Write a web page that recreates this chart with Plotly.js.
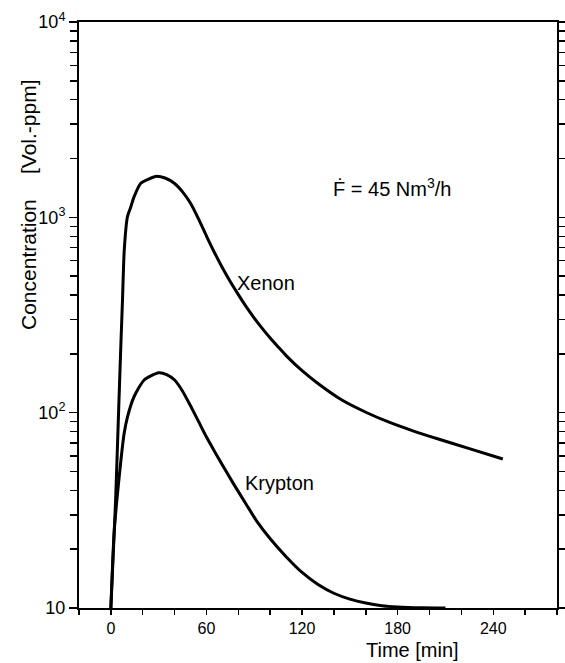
<!DOCTYPE html>
<html>
<head>
<meta charset="utf-8">
<script src="https://cdn.plot.ly/plotly-3.0.1.min.js"></script>
<style>html,body{margin:0;padding:0;background:#fff;}#chart{width:565px;height:663px;}</style>
</head>
<body>
<div id="chart"></div>
<script>
// Time [min] and concentration [Vol.-ppm]
const xenonTime = [0, 3, 5, 6.3, 7.3, 8.4, 10.4, 12.5, 14.6, 18.8, 23.5, 28, 34, 40, 45, 50, 55, 60, 65, 70, 75, 80, 85, 90, 95, 100, 105, 110, 120, 130, 145, 160, 175, 190, 205, 225, 246];
const xenonConc = [10, 36, 110, 225, 378, 680, 1007, 1130, 1276, 1494, 1567, 1620, 1590, 1490, 1350, 1180, 982, 802, 661, 552, 468, 402, 348, 305, 270, 241, 217, 196, 164, 141, 116, 100.5, 89.1, 80.5, 73.5, 65.5, 57.9];
const kryptonTime = [0, 2, 5, 8.3, 10.4, 14.6, 20.9, 30, 35, 40, 45, 50, 55, 60, 65, 70, 77, 85, 92, 100, 110, 120, 130, 140, 150, 160, 170, 180, 195, 210];
const kryptonConc = [10, 24, 45, 78, 95, 121, 147, 160, 156.7, 146.9, 128.8, 108.4, 90.2, 75.0, 63.5, 54.0, 43.2, 33.9, 27.5, 22.6, 18.3, 15.2, 13.2, 11.9, 11.1, 10.6, 10.28, 10.12, 10.02, 10.0];

const xMajor = [0, 60, 120, 180, 240];
const xMajorText = ["0", "60", "120", "180", "240"];
const xMinor = [-20, 20, 40, 80, 100, 140, 160, 200, 220, 260, 280];
const yMajor = [10, 100, 1000, 10000];
const yMajorText = ["10", "10<sup>2</sup>", "10<sup>3</sup>", "10<sup>4</sup>"];
const yMinor = [20, 30, 40, 50, 60, 70, 80, 90, 200, 300, 400, 500, 600, 700, 800, 900, 2000, 3000, 4000, 5000, 6000, 7000, 8000, 9000];

const font = "Liberation Sans, Arial, sans-serif";

const traces = [
  {x: xenonTime, y: xenonConc, name: "Xenon", mode: "lines", line: {color: "#000", width: 3, shape: "spline", smoothing: 0.6}},
  {x: kryptonTime, y: kryptonConc, name: "Krypton", mode: "lines", line: {color: "#000", width: 3, shape: "spline", smoothing: 0.6}}
];

const layout = {
  width: 565, height: 663,
  margin: {l: 79, r: 8, t: 22, b: 55},
  paper_bgcolor: "#fff", plot_bgcolor: "#fff",
  showlegend: false,
  font: {family: font, color: "#000", size: 17},
  xaxis: {
    range: [-20, 280], tickmode: "array", tickvals: xMajor, ticktext: xMajorText,
    ticks: "outside", ticklen: 5, tickwidth: 1.5, tickcolor: "#000",
    minor: {tickmode: "array", tickvals: xMinor, ticks: "outside", ticklen: 5, tickwidth: 1.5, tickcolor: "#000", showgrid: false},
    showline: true, linewidth: 2, linecolor: "#000", mirror: true,
    showgrid: false, zeroline: false,
    tickfont: {family: font, size: 16}
  },
  yaxis: {
    type: "log", range: [1, 4], tickmode: "array", tickvals: yMajor, ticktext: yMajorText,
    ticks: "outside", ticklen: 8, tickwidth: 1.5, tickcolor: "#000",
    minor: {tickmode: "array", tickvals: yMinor, ticks: "outside", ticklen: 7, tickwidth: 1.5, tickcolor: "#000", showgrid: false},
    showline: true, linewidth: 2, linecolor: "#000", mirror: "ticks",
    showgrid: false, zeroline: false,
    tickfont: {family: font, size: 18}
  },
  annotations: [
    {text: "Xenon", font: {size: 20}},
    {text: "Krypton", font: {size: 20}},
    {text: "Concentration", textangle: -90, font: {size: 21}},
    {text: "[Vol.-ppm]", textangle: -90, font: {size: 21}},
    {text: "Ḟ = 45 Nm<sup>3</sup>/h", font: {size: 20}},
    {text: "Time [min]", font: {size: 20}}
  ]
};

// place annotations in pixel terms converted to paper coords
const W = 565 - 79 - 8, H = 663 - 22 - 55;
function px(x) { return (x - 79) / W; }
function py(y) { return 1 - (y - 22) / H; }
const pos = [[266, 283], [279, 483], [28, 265], [28, 127], [392, 187], [412, 662]];
layout.annotations.forEach((a, i) => {
  a.showarrow = false;
  a.xref = "paper"; a.yref = "paper";
  a.x = px(pos[i][0]); a.y = py(pos[i][1]);
  a.xanchor = "center"; a.yanchor = "middle";
  a.borderpad = 0;
});
layout.annotations[5].yanchor = "bottom";

Plotly.newPlot("chart", traces, layout, {staticPlot: true, displayModeBar: false});
</script>
</body>
</html>
